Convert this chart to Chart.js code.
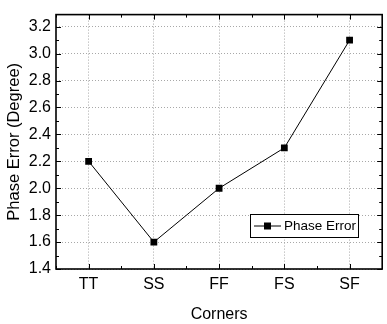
<!DOCTYPE html>
<html>
<head>
<meta charset="utf-8">
<script src="https://cdn.jsdelivr.net/npm/chart.js@4"></script>
<style>
html,body{margin:0;padding:0;background:#fff;}
#wrap{width:387px;height:324px;position:relative;}
</style>
</head>
<body>
<div id="wrap"><canvas id="c" width="387" height="324"></canvas></div>
<script>
const categories = ["TT", "SS", "FF", "FS", "SF"];
const phaseError = [2.2, 1.6, 2.0, 2.3, 3.1];
const seriesLabel = "Phase Error";
const yTicks = [1.4, 1.6, 1.8, 2.0, 2.2, 2.4, 2.6, 2.8, 3.0, 3.2];
const yMinorTicks = [1.5, 1.7, 1.9, 2.1, 2.3, 2.5, 2.7, 2.9, 3.1];
const yMin = 1.4, yMax = 3.29;
const xTitle = "Corners";
const yTitle = "Phase Error (Degree)";

const FONT = "'Liberation Sans', Arial, sans-serif";

const frame = {
  id: 'frame',
  afterDraw(chart) {
    const ctx = chart.ctx, a = chart.chartArea;
    const xs = chart.scales.x, ys = chart.scales.y;
    ctx.save();
    ctx.strokeStyle = '#000';
    ctx.lineWidth = 1;
    ctx.beginPath();
    for (let i = 0; i < categories.length; i++) {
      const x = Math.round(xs.getPixelForValue(i)) + 0.5;
      ctx.moveTo(x, a.bottom); ctx.lineTo(x, a.bottom - 5);
      ctx.moveTo(x, a.top); ctx.lineTo(x, a.top + 5);
    }
    for (let i = 0; i <= categories.length; i++) {
      const x = Math.round(xs.getPixelForValue(i - 0.5)) + 0.5;
      ctx.moveTo(x, a.bottom); ctx.lineTo(x, a.bottom - 3);
      ctx.moveTo(x, a.top); ctx.lineTo(x, a.top + 3);
    }
    yTicks.forEach(v => {
      const y = Math.round(ys.getPixelForValue(v)) + 0.5;
      ctx.moveTo(a.left, y); ctx.lineTo(a.left + 5, y);
      ctx.moveTo(a.right, y); ctx.lineTo(a.right - 5, y);
    });
    yMinorTicks.forEach(v => {
      const y = Math.round(ys.getPixelForValue(v)) + 0.5;
      ctx.moveTo(a.left, y); ctx.lineTo(a.left + 3, y);
      ctx.moveTo(a.right, y); ctx.lineTo(a.right - 3, y);
    });
    ctx.stroke();
    ctx.lineWidth = 1.6;
    ctx.strokeRect(a.left, a.top, a.right - a.left, a.bottom - a.top);
    // legend
    const lx = 250, ly = 214, lw = 108, lh = 23;
    ctx.fillStyle = '#fff';
    ctx.fillRect(lx, ly, lw, lh);
    ctx.lineWidth = 1;
    ctx.strokeRect(lx + 0.5, ly + 0.5, lw, lh);
    const cy = ly + lh / 2 + 0.5;
    ctx.beginPath();
    ctx.moveTo(lx + 4, cy); ctx.lineTo(lx + 31, cy);
    ctx.stroke();
    ctx.fillStyle = '#000';
    ctx.fillRect(lx + 14, cy - 3.5, 7, 7);
    ctx.font = '13.5px ' + FONT;
    ctx.textBaseline = 'middle';
    ctx.textAlign = 'left';
    ctx.fillText(chart.data.datasets[0].label, lx + 34, cy + 0.5);
    ctx.restore();
  }
};

new Chart(document.getElementById('c'), {
  type: 'line',
  data: {
    labels: categories,
    datasets: [{
      label: seriesLabel,
      data: phaseError,
      borderColor: '#000',
      borderWidth: 1,
      backgroundColor: '#000',
      pointStyle: 'rect',
      pointRadius: 4.8,
      pointBorderWidth: 0,
      tension: 0
    }]
  },
  options: {
    responsive: false,
    animation: false,
    layout: { padding: { top: 2, right: 1, left: 0, bottom: 0 } },
    plugins: { legend: { display: false }, tooltip: { enabled: false } },
    scales: {
      x: {
        type: 'category',
        offset: true,
        grid: { offset: false, drawTicks: false, color: '#a8a8a8', lineWidth: 1 },
        border: { display: false, dash: [1, 2] },
        ticks: { color: '#000', font: { family: FONT, size: 16 }, padding: 6 },
        title: { display: true, text: xTitle, color: '#000', font: { family: FONT, size: 16 }, padding: { top: 2, bottom: 0 } },
        afterFit(s) { s.height = 55; }
      },
      y: {
        min: yMin, max: yMax,
        grid: { drawTicks: false, color: '#a8a8a8', lineWidth: 1 },
        border: { display: false, dash: [1, 2] },
        ticks: { color: '#000', font: { family: FONT, size: 16 }, padding: 5,
          callback: v => v.toFixed(1) },
        afterBuildTicks(s) { s.ticks = yTicks.map(v => ({ value: v })); },
        title: { display: true, text: yTitle, color: '#000', font: { family: FONT, size: 16.5 }, padding: { top: 5, bottom: 0 } },
        afterFit(s) { s.width = 56; }
      }
    }
  },
  plugins: [frame]
});
</script>
</body>
</html>
